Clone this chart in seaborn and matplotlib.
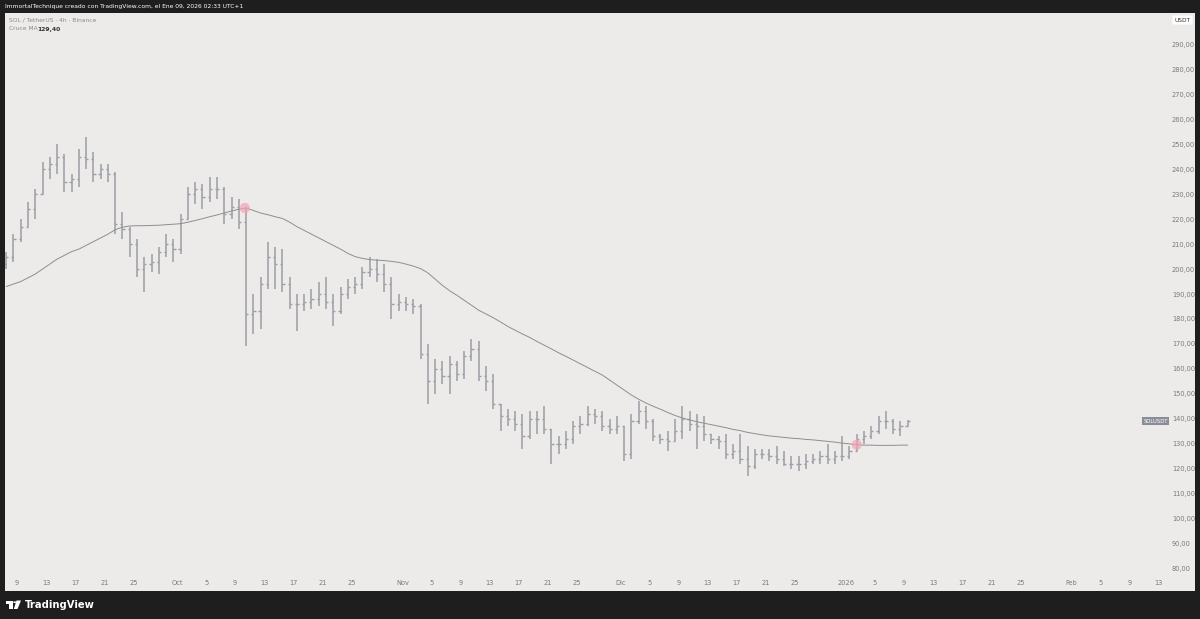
import numpy as np
import pandas as pd
import matplotlib
matplotlib.use('Agg')
import matplotlib.pyplot as plt
import matplotlib.dates as mdates
import matplotlib.transforms as mtransforms
import seaborn as sns
from matplotlib.patches import Polygon, Circle

# Datos diarios SOL / TetherUS (7 sep 2025 - 9 ene 2026)
fechas = pd.date_range('2025-09-07', '2026-01-09', freq='D')

altos_sep = [207, 214, 220, 227, 232, 243, 245, 250, 246, 238, 248, 253, 247, 242, 242, 239,
             223, 217, 212, 205, 206, 209, 214, 212]
bajos_sep = [200, 203, 211, 217, 220, 230, 236, 238, 231, 231, 233, 240, 235, 236, 235, 214,
             212, 205, 197, 191, 199, 198, 205, 203]
cierres_sep = [205, 212, 217, 224, 230, 240, 242, 245, 235, 236, 245, 244, 238, 240, 238, 218,
               216, 210, 200, 202, 203, 207, 210, 208]

altos_oct = [222, 233, 235, 234, 237, 237, 233, 229, 228, 225, 190, 197, 211, 209, 208, 197,
             190, 190, 192, 195, 197, 190, 193, 196, 197, 201, 205, 204, 202, 197, 190]
bajos_oct = [206, 220, 226, 224, 227, 228, 218, 220, 216, 169, 174, 176, 192, 192, 191, 184,
             175, 183, 184, 185, 184, 177, 182, 188, 190, 192, 197, 195, 191, 180, 183]
cierres_oct = [220, 230, 232, 229, 232, 232, 222, 225, 219, 182, 183, 194, 205, 202, 194, 186,
               186, 187, 188, 190, 187, 183, 190, 193, 194, 199, 200, 198, 194, 186, 187]

altos_nov = [189, 188, 186, 170, 164, 163, 165, 163, 167, 172, 171, 161, 158, 146, 144, 143,
             142, 143, 143, 145, 136, 133, 135, 139, 141, 145, 144, 143, 140, 141]
bajos_nov = [183, 182, 164, 146, 150, 154, 150, 155, 156, 163, 155, 151, 144, 135, 137, 135,
             128, 132, 134, 134, 122, 126, 128, 130, 134, 137, 138, 135, 134, 134]
cierres_nov = [186, 185, 166, 155, 160, 157, 162, 158, 165, 168, 157, 155, 146, 141, 140, 138,
               133, 140, 140, 136, 130, 130, 132, 137, 138, 142, 141, 137, 136, 137]

altos_dic = [137, 142, 147, 145, 140, 134, 135, 140, 145, 143, 142, 141, 134, 133, 134, 130,
             134, 129, 128, 128, 128, 129, 127, 125, 125, 126, 126, 127, 130, 127, 133]
bajos_dic = [123, 124, 138, 136, 131, 130, 127, 131, 132, 135, 128, 131, 130, 128, 124, 124,
             122, 117, 120, 124, 123, 122, 121, 120, 119, 120, 122, 122, 122, 122, 123]
cierres_dic = [126, 139, 143, 139, 133, 132, 131, 135, 140, 138, 137, 134, 132, 131, 126, 127,
               124, 121, 126, 126, 125, 124, 122, 122, 122, 123, 124, 125, 124, 125, 125]

altos_ene = [129, 134, 135, 137, 141, 143, 140, 139, 139.5]
bajos_ene = [124, 127, 130, 132, 134, 136, 134, 133, 137]
cierres_ene = [127, 132, 133, 135, 139, 139, 136, 137, 139]

apertura_inicial = 202

# Media movil (Cruce MA), un valor por dia
ma_sep = [193, 194, 195, 196.5, 198, 200, 202, 204, 205.5, 207, 208, 209.5, 211, 212.5, 214,
          215.8, 216.8, 217.3, 217.4, 217.4, 217.5, 217.6, 217.8, 218]
ma_oct = [218.2, 218.8, 219.5, 220.2, 221, 221.7, 222.5, 223.3, 224, 224.5, 223.5, 222.5,
          221.8, 221, 220.3, 218.8, 217, 215.5, 214, 212.5, 211, 209.5, 208, 206.3, 205, 204.3,
          203.8, 203.6, 203.4, 203.1, 202.7]
ma_nov = [202, 201.2, 200.2, 198.5, 196, 193.5, 191.3, 189.5, 187.5, 185.5, 183.5, 182, 180.5,
          178.8, 177, 175.5, 174, 172.6, 171, 169.5, 168, 166.4, 165, 163.5, 162, 160.5, 159,
          157.5, 155.5, 153.5]
ma_dic = [151.5, 149.5, 147.8, 146.3, 145, 143.8, 142.5, 141.3, 140.3, 139.5, 138.8, 138.2,
          137.6, 137, 136.4, 135.7, 135.2, 134.5, 134, 133.5, 133.1, 132.8, 132.5, 132.2, 132,
          131.7, 131.5, 131.2, 130.9, 130.6, 130.2]
ma_ene = [129.9, 129.6, 129.4, 129.4, 129.3, 129.3, 129.3, 129.4, 129.4]

# Cruces marcados
cruces_fechas = pd.to_datetime(['2025-10-10 08:00', '2026-01-02 12:00'])
cruces_precios = [224.5, 129.6]

precios_eje = list(range(80, 300, 10))

etiquetas_tiempo = ['9', '13', '17', '21', '25', 'Oct', '5', '9', '13', '17', '21', '25',
                    'Nov', '5', '9', '13', '17', '21', '25', 'Dic', '5', '9', '13', '17', '21',
                    '25', '2026', '5', '9', '13', '17', '21', '25', 'Feb', '5', '9', '13']
fechas_tiempo = pd.to_datetime([
    '2025-09-09', '2025-09-13', '2025-09-17', '2025-09-21', '2025-09-25', '2025-10-01',
    '2025-10-05', '2025-10-09', '2025-10-13', '2025-10-17', '2025-10-21', '2025-10-25',
    '2025-11-01', '2025-11-05', '2025-11-09', '2025-11-13', '2025-11-17', '2025-11-21',
    '2025-11-25', '2025-12-01', '2025-12-05', '2025-12-09', '2025-12-13', '2025-12-17',
    '2025-12-21', '2025-12-25', '2026-01-01', '2026-01-05', '2026-01-09', '2026-01-13',
    '2026-01-17', '2026-01-21', '2026-01-25', '2026-02-01', '2026-02-05', '2026-02-09',
    '2026-02-13'])

altos = np.array(altos_sep + altos_oct + altos_nov + altos_dic + altos_ene, dtype=float)
bajos = np.array(bajos_sep + bajos_oct + bajos_nov + bajos_dic + bajos_ene, dtype=float)
cierres = np.array(cierres_sep + cierres_oct + cierres_nov + cierres_dic + cierres_ene, dtype=float)
aperturas = np.r_[apertura_inicial, cierres[:-1]]
ma = np.array(ma_sep + ma_oct + ma_nov + ma_dic + ma_ene, dtype=float)

df = pd.DataFrame({'fecha': fechas, 'ma': ma})
df['x'] = mdates.date2num(df['fecha']) + 0.5

# Estilo
sns.set_style('white')
plt.rcParams['font.family'] = ['DejaVu Sans']

FONDO = '#1e1e1e'
PANEL = '#ecebea'
GRIS_BARRA = '#9b9ea6'
TEXTO = '#7a7a7a'

fig = plt.figure(figsize=(12, 6.19), dpi=100, facecolor=FONDO)
W, H = 1200, 619
ax = fig.add_axes([5 / W, (H - 591) / H, 1190 / W, 578 / H])
ax.set_facecolor(PANEL)
for s in ax.spines.values():
    s.set_visible(False)

# Barras OHLC
x = df['x'].values
ax.vlines(x, bajos, altos, color=GRIS_BARRA, lw=1.1)
ax.hlines(aperturas, x - 0.3, x, color=GRIS_BARRA, lw=1.0)
ax.hlines(cierres, x, x + 0.3, color=GRIS_BARRA, lw=1.0)

# Media movil
sns.lineplot(data=df, x='x', y='ma', ax=ax, color='#8e8e8e', lw=0.7)

# Cruces
ax.scatter(mdates.date2num(cruces_fechas), cruces_precios, s=55, color='#f3a3b6',
           alpha=0.7, edgecolors='none', zorder=5)

# Limites
oct1 = mdates.date2num(pd.Timestamp('2025-10-01'))
ax.set_xlim(oct1 - 23.66, oct1 + 140.03)
ax.set_ylim(70.9, 302.7)

# Eje de precios (dentro del panel, a la derecha)
ax.set_yticks(precios_eje)
ax.set_yticklabels([f'{p},00' for p in precios_eje])
ax.yaxis.set_ticks_position('right')
ax.tick_params(axis='y', length=0, pad=-16.6, labelsize=4.8, labelcolor=TEXTO,
               labelright=True, labelleft=False)

# Eje de tiempo
ax.set_xticks(mdates.date2num(fechas_tiempo))
ax.set_xticklabels(etiquetas_tiempo)
ax.tick_params(axis='x', length=0, pad=-8.2, labelsize=4.8, labelcolor=TEXTO)
ax.set_xlabel('')
ax.set_ylabel('')
ax.grid(False)

# Etiqueta del simbolo
trans = mtransforms.blended_transform_factory(ax.transAxes, ax.transData)
ax.text(0.977, cierres[-1], 'SOLUSDT', transform=trans, ha='right', va='center',
        fontsize=3.8, color='white',
        bbox=dict(boxstyle='square,pad=0.25', fc='#8a8d96', ec='none'))

# Caja USDT
ax.text(0.9895, 1 - (20 - 13) / 578, 'USDT', transform=ax.transAxes, ha='center', va='center',
        fontsize=4.2, color='#333333',
        bbox=dict(boxstyle='round,pad=0.35,rounding_size=0.2', fc='white', ec='none'))

# Leyenda
ax.text(4 / 1190, 1 - (20 - 13) / 578, 'SOL / TetherUS · 4h · Binance', transform=ax.transAxes,
        ha='left', va='center', fontsize=4.3, color='#8a8a8a')
ax.text(4 / 1190, 1 - (29 - 13) / 578, 'Cruce MA', transform=ax.transAxes,
        ha='left', va='center', fontsize=4.3, color='#8a8a8a')
ax.text(32 / 1190, 1 - (29 - 13) / 578, f'{ma[-1]:.2f}'.replace('.', ','), transform=ax.transAxes,
        ha='left', va='center', fontsize=4.3, color='#333333', fontweight='bold')

# Cabecera
fig.text(5 / W, 1 - 6.5 / H,
         'ImmortalTechnique creado con TradingView.com, el Ene 09, 2026 02:33 UTC+1',
         color='white', fontsize=4.3, ha='left', va='center')

# Logo TradingView
def px(xp, yp):
    return (xp / W, 1 - yp / H)

logo_t = Polygon([px(6, 600.5), px(12.5, 600.5), px(12.5, 609), px(9.2, 609), px(9.2, 603.7),
                  px(6, 603.7)], closed=True, fc='white', ec='none', transform=fig.transFigure)
logo_b = Polygon([px(16.5, 600.5), px(21, 600.5), px(17.5, 609), px(13.8, 609)], closed=True,
                 fc='white', ec='none', transform=fig.transFigure)
fig.add_artist(logo_t)
fig.add_artist(logo_b)
fig.add_artist(Circle(px(14.8, 602.2), 1.6 / W, fc='white', ec='none', transform=fig.transFigure))
fig.text(25 / W, 1 - 605 / H, 'TradingView', color='white', fontsize=7.2, fontweight='bold',
         ha='left', va='center')

fig.savefig('out.png', dpi=100, facecolor=FONDO)
